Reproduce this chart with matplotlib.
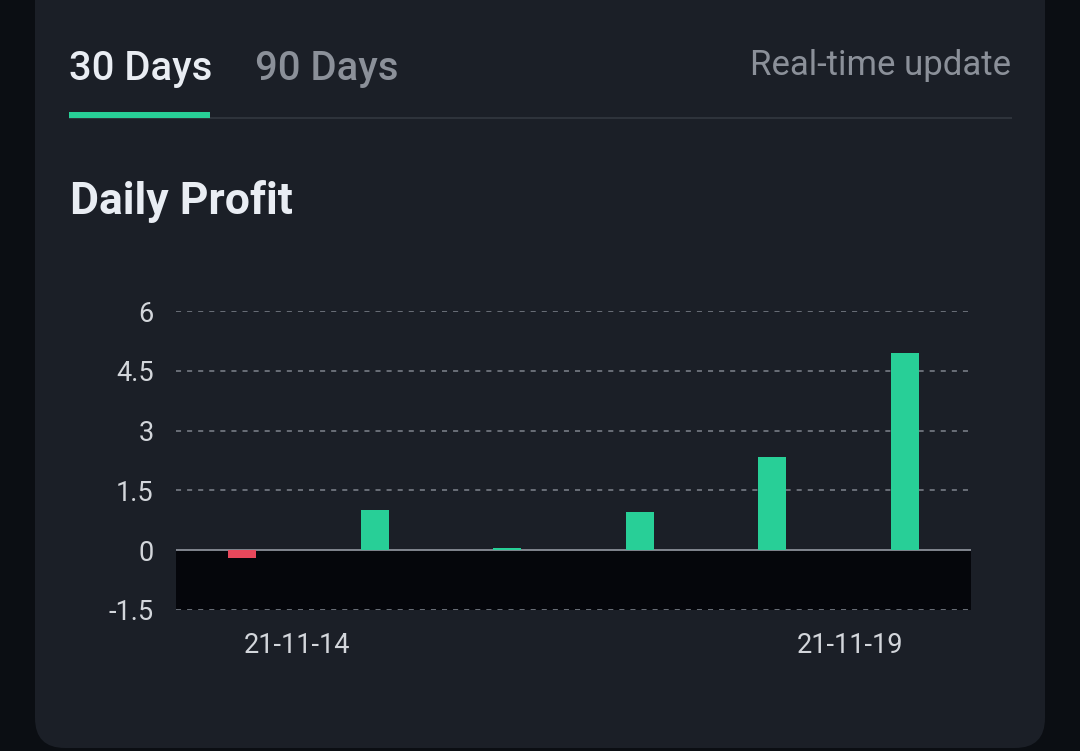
import matplotlib
matplotlib.use('Agg')
import matplotlib.pyplot as plt
from matplotlib.patches import FancyBboxPatch, Rectangle

# data
days = ['21-11-13', '21-11-14', '21-11-15', '21-11-16', '21-11-18', '21-11-19']
profit = [-0.2, 1.0, 0.05, 0.95, 2.35, 4.95]
yticks = [-1.5, 0, 1.5, 3, 4.5, 6]
ytick_labels = ['-1.5', '0', '1.5', '3', '4.5', '6']
xtick_pos = [0.41, 4.59]
xtick_labels = ['21-11-14', '21-11-19']

W, H = 1080, 751
page_bg = '#0b0e13'
card_bg = '#1b1f27'
green = '#28cf97'
red = '#e8485c'
plt.rcParams['font.family'] = ['Roboto', 'DejaVu Sans']

fig = plt.figure(figsize=(W / 100, H / 100), dpi=100)
fig.patch.set_facecolor(page_bg)

# background layer in pixel coords
bg = fig.add_axes([0, 0, 1, 1])
bg.set_xlim(0, W)
bg.set_ylim(H, 0)
bg.axis('off')
bg.add_patch(FancyBboxPatch((35, -30), 1010, 778, boxstyle='round,pad=0,rounding_size=30',
                            facecolor=card_bg, edgecolor='none'))
bg.add_patch(Rectangle((69, 117), 943, 2, facecolor='#2e333b', edgecolor='none'))
bg.add_patch(Rectangle((69, 112), 141, 6, facecolor=green, edgecolor='none'))

bg.text(69, 80, '30 Days', fontsize=28.8, color='#e9edf3', weight='medium', va='baseline')
bg.text(255, 80, '90 Days', fontsize=28.8, color='#8b9099', weight='medium', va='baseline')
bg.text(1011, 75, 'Real-time update', fontsize=25, color='#8b9099', ha='right', va='baseline')
bg.text(70, 214, 'Daily Profit', fontsize=32, color='#e9edf3', weight='bold', va='baseline')

# chart
ax = fig.add_axes([176 / W, 1 - 610 / H, (971 - 176) / W, (610 - 311) / H])
ax.set_facecolor('none')
ax.set_xlim(-0.5, 5.5)
ax.set_ylim(-1.5, 6)
ax.axhspan(-1.5, 0, color='#05060b', zorder=0)
for y in yticks:
    if y != 0:
        ax.axhline(y, color='#6a6f78', lw=1.4, ls=(0, (2.6, 3.1)), zorder=1)
ax.axhline(0, color='#8a8f98', lw=1.3, zorder=2)

colors = [green if v >= 0 else red for v in profit]
ax.bar(range(len(profit)), profit, width=0.21, color=colors, zorder=3)

ax.set_yticks(yticks)
ax.set_yticklabels(ytick_labels)
ax.set_xticks(xtick_pos)
ax.set_xticklabels(xtick_labels)
ax.tick_params(axis='y', length=0, pad=16, labelsize=19.5, labelcolor='#d3d6db')
ax.tick_params(axis='x', length=0, pad=16, labelsize=19.5, labelcolor='#d3d6db')
for s in ax.spines.values():
    s.set_visible(False)

fig.savefig('out.png', dpi=100, facecolor=page_bg)
